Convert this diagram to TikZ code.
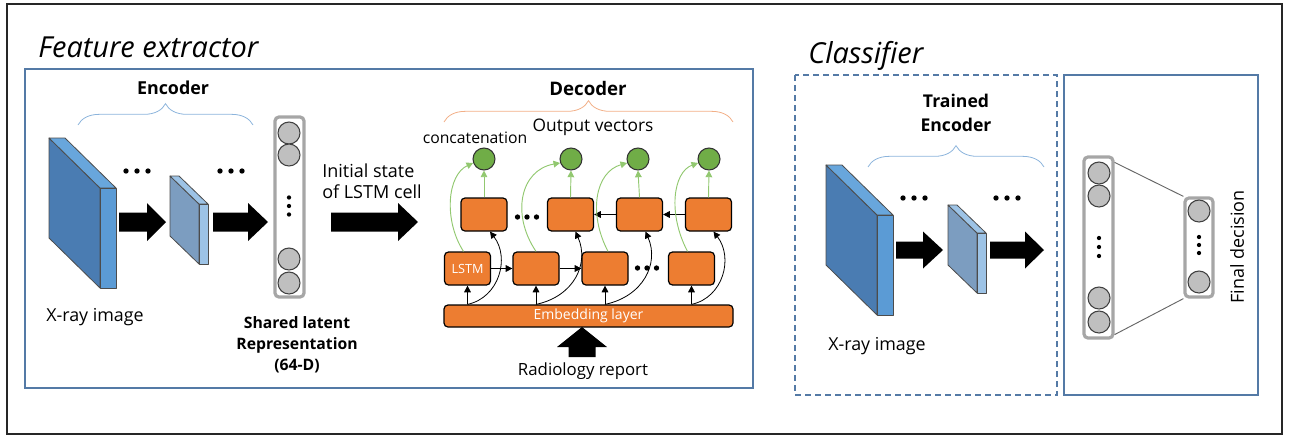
\documentclass[tikz,border=0pt]{standalone}
\usepackage{fontspec}
\setmainfont{Open Sans}
\usetikzlibrary{decorations.pathreplacing,arrows.meta,calc}

\definecolor{frameblue}{RGB}{84,122,166}
\definecolor{braceblue}{RGB}{140,180,220}
\definecolor{braceorange}{RGB}{242,175,135}
\definecolor{slabside}{RGB}{74,124,178}
\definecolor{slabfront}{RGB}{91,155,213}
\definecolor{slabtop}{RGB}{104,166,220}
\definecolor{smallside}{RGB}{124,157,192}
\definecolor{smallfront}{RGB}{157,195,230}
\definecolor{lstmorange}{RGB}{237,125,49}
\definecolor{outgreen}{RGB}{112,173,71}
\definecolor{arrowgreen}{RGB}{146,200,112}
\definecolor{nodegray}{RGB}{191,191,191}
\definecolor{vecgray}{RGB}{166,166,166}

% three dots in a row / in a column
\newcommand\dotrow[3]{\fill (#1-#3,#2) circle (2pt) (#1,#2) circle (2pt) (#1+#3,#2) circle (2pt);}
\newcommand\dotcol[3]{\fill (#1,#2-#3) circle (1.6pt) (#1,#2) circle (1.6pt) (#1,#2+#3) circle (1.6pt);}
% block arrows: start x, head x, tip x, centre y, half shaft, half head
\newcommand\blockarrowR[6]{\fill (#1,#4-#5) -- (#2,#4-#5) -- (#2,#4-#6) -- (#3,#4) -- (#2,#4+#6) -- (#2,#4+#5) -- (#1,#4+#5) -- cycle;}

\tikzset{
  slabedge/.style={draw=black!70, line width=0.6pt, line join=round},
  bigslab/.pic={
    \filldraw[slabedge, fill=slabside] (-51,-50) -- (0,0) -- (0,100) -- (-51,50) -- cycle;
    \filldraw[slabedge, fill=slabtop] (-51,-50) -- (-35,-50) -- (16,0) -- (0,0) -- cycle;
    \filldraw[slabedge, fill=slabfront] (0,0) rectangle (16,100);
  },
  smallslab/.pic={
    \filldraw[slabedge, fill=smallside] (-29,-28) -- (0,0) -- (0,60) -- (-29,32) -- cycle;
    \filldraw[slabedge, fill=smallfront] (-29,-28) -- (-20,-28) -- (9,0) -- (0,0) -- cycle;
    \filldraw[slabedge, fill=smallfront] (0,0) rectangle (9,60);
  },
  panel/.style={draw=frameblue, line width=1pt},
  cell/.style={draw=black, fill=lstmorange, rounded corners=3pt, line width=0.9pt,
    minimum width=34.5pt, minimum height=24.75pt, inner sep=0pt, text=white,
    font=\fontsize{9.5}{10}\selectfont},
  outnode/.style={circle, draw=black!80, fill=outgreen, minimum size=16.5pt, inner sep=0pt, line width=0.8pt},
  unit/.style={circle, draw=black!75, fill=nodegray, minimum size=16.5pt, inner sep=0pt, line width=0.8pt},
  vecbox/.style={draw=vecgray, fill=white, line width=2.4pt, rounded corners=3pt, inner sep=0pt},
  flow/.style={-{Triangle[length=5pt,width=5pt]}, line width=0.6pt, draw=black},
  gflow/.style={-{Triangle[length=5pt,width=5pt]}, line width=0.7pt, draw=arrowgreen},
  brace/.style={decorate, decoration={brace, amplitude=16pt, raise=0pt}, line width=0.6pt},
  lbl/.style={font=\fontsize{13.4}{16}\selectfont, inner sep=0pt},
  blbl/.style={font=\fontsize{13.4}{16}\selectfont\bfseries, inner sep=0pt},
  title/.style={font=\fontsize{21.7}{26}\selectfont\itshape, inner sep=0pt},
}

\begin{document}
\begin{tikzpicture}[x=0.75pt, y=-0.75pt]
\useasboundingbox (0,0) rectangle (1289,436);

% outer frame
\draw[black!85, line width=1.4pt] (7,4) rectangle (1282,434);

% ---------------- Feature extractor ----------------
\node[title, anchor=base west] (fetitle) at (38,57) {Feature extractor};
\draw[panel] (25,69) rectangle (753,388);

\node[blbl] (enclbl) at (173,88) {Encoder};
\draw[brace, braceblue] (78,125) -- (253,125);

\pic at (100,188) {bigslab};
\pic at (199,204) {smallslab};
\dotrow{137}{171}{11}
\dotrow{231}{171}{11}
\blockarrowR{119}{147}{166}{222}{9.5}{19}
\blockarrowR{213}{248}{268}{222}{9.5}{19}
\node[lbl] (xray1) at (95,317) {X-ray image};

% shared latent vector
\node[vecbox, minimum width=21.75pt, minimum height=135pt] (lv) at (289.5,207) {};
\node[unit] (lv1) at (289,133) {};
\node[unit] (lv2) at (289,155) {};
\node[unit] (lv3) at (289,259) {};
\node[unit] (lv4) at (289,283) {};
\dotcol{289}{206}{8.5}
\node[blbl, align=center, font=\fontsize{11.8}{15.75}\selectfont\bfseries] (latent) at (297,345)
  {Shared latent\\Representation\\(64-D)};

\node[lbl, anchor=west, align=left, font=\fontsize{13.5}{16}\selectfont] (init) at (322,181) {Initial state\\of LSTM cell};
\blockarrowR{331}{398}{418}{222}{9.5}{19}

% decoder
\node[blbl, font=\fontsize{14}{16}\selectfont\bfseries] (declbl) at (588,88) {Decoder};
\draw[brace, braceorange] (444,122) -- (733,122);
\node[lbl, font=\fontsize{13}{16}\selectfont] (outvec) at (593,127) {Output vectors};
\node[lbl, font=\fontsize{11.8}{14}\selectfont] (concat) at (475,138) {concatenation};

\node[outnode] (o1) at (484,159) {};
\node[outnode] (o2) at (571,159) {};
\node[outnode] (o3) at (638,159) {};
\node[outnode] (o4) at (709,159) {};

\node[cell] (t1) at (484,214.5) {};
\node[cell] (t2) at (570.5,214.5) {};
\node[cell] (t3) at (639.5,214.5) {};
\node[cell] (t4) at (708.5,214.5) {};

\node[cell] (b1) at (467.5,268.5) {LSTM};
\node[cell] (b2) at (536,268.5) {};
\node[cell] (b3) at (605,268.5) {};
\node[cell] (b4) at (691.5,268.5) {};

\node[cell, minimum width=216.75pt, minimum height=16.5pt, font=\fontsize{10.5}{12}\selectfont]
  (emb) at (588.5,316) {Embedding layer};

\dotrow{527}{217}{9.5}
\dotrow{647}{268}{9.5}

% recurrent links
\draw[flow] (b1) -- (b2);
\draw[flow] (b2) -- (b3);
\draw[flow] (t4) -- (t3);
\draw[flow] (t3) -- (t2);

% inputs from the embedding layer
\foreach \i in {1,...,4} \coordinate (e\i) at (b\i |- emb.north);
\foreach \i in {1,...,4} \draw[flow] (e\i) -- (b\i.south);
\draw[flow] (e1) .. controls +(32,-7) and +(20,26) .. ($(t1.south)+(6,0)$);
\draw[flow] (e2) .. controls +(38,-8) and +(14,32) .. ($(t2.south)+(5,0)$);
\draw[flow] (e3) .. controls +(38,-8) and +(14,32) .. ($(t3.south)+(6,0)$);
\draw[flow] (e4) .. controls +(32,-7) and +(20,26) .. ($(t4.south)+(5,0)$);

% outputs
\foreach \i in {1,...,4} \draw[gflow] (t\i.north) -- (o\i.south);
\draw[gflow] ($(b1.north)+(-4,0)$) .. controls +(-20,-31) and +(-26,12) .. (o1.200);
\draw[gflow] (b2.north) .. controls +(-25,-37) and +(-40,7) .. (o2.200);
\draw[gflow] ($(b3.north)+(3,0)$) .. controls +(-20,-38) and +(-32,9) .. (o3.200);
\draw[gflow] ($(b4.north)+(-4,0)$) .. controls +(-20,-38) and +(-25,9) .. (o4.200);

% radiology report input
\fill (568.5,357) -- (568.5,347) -- (557,347) -- (582,327) -- (607,347) -- (595.5,347) -- (595.5,357) -- cycle;
\node[lbl, font=\fontsize{12.6}{14}\selectfont] (report) at (583,371) {Radiology report};

% ---------------- Classifier ----------------
\node[title, anchor=base west] (cltitle) at (808,63) {Classifier};
\draw[panel, dash pattern=on 4.5pt off 3pt] (795,75) rectangle (1057,395);
\draw[panel] (1064,75) rectangle (1258,395);

\node[blbl, align=center, font=\fontsize{13.2}{17.5}\selectfont\bfseries] (trained) at (956,113) {Trained\\Encoder};
\draw[brace, braceblue] (868,167) -- (1044,167);

\pic at (877,215) {bigslab};
\pic at (977,233) {smallslab};
\dotrow{914}{198}{11}
\dotrow{1007}{198}{11}
\blockarrowR{896}{923}{943}{250}{8.5}{18.5}
\blockarrowR{990}{1025}{1044}{250}{8.5}{18.5}
\node[lbl] (xray2) at (877,346) {X-ray image};

\node[vecbox, minimum width=21.75pt, minimum height=135.75pt] (cvL) at (1098.5,247.5) {};
\node[unit] (cl1) at (1099,173) {};
\node[unit] (cl2) at (1099,196) {};
\node[unit] (cl3) at (1099,298) {};
\node[unit] (cl4) at (1099,322) {};
\dotcol{1099}{247}{9}

\node[vecbox, minimum width=21pt, minimum height=74.25pt] (cvR) at (1199,247.5) {};
\node[unit] (cr1) at (1199,211) {};
\node[unit] (cr2) at (1199,282) {};
\dotcol{1199}{245}{8}

\draw[black!60, line width=0.7pt] ($(cvL.north east)+(0,7)$) -- (cvR.north west);
\draw[black!60, line width=0.7pt] ($(cvL.south east)+(0,-5)$) -- (cvR.south west);

\node[lbl, rotate=90, font=\fontsize{13.5}{16}\selectfont] (final) at (1237,247) {Final decision};
\end{tikzpicture}
\end{document}
